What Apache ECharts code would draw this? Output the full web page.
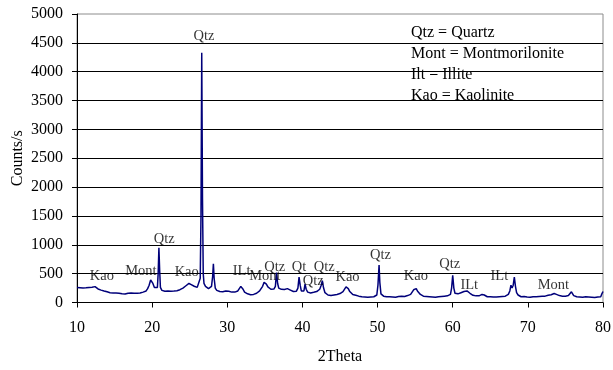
<!DOCTYPE html>
<html><head><meta charset="utf-8">
<script src="https://cdn.jsdelivr.net/npm/echarts@6/dist/echarts.min.js"></script>
<style>html,body{margin:0;padding:0;background:#fff}#c{width:613px;height:370px}</style>
</head><body><div id="c"></div>
<script>
const twoTheta = [
10.0,10.2,10.4,10.6,10.8,11.0,11.2,11.4,11.6,11.8,12.0,12.2,12.4,12.6,12.8,13.0,13.2,13.4,13.6,13.8,
14.0,14.2,14.4,14.6,14.8,15.0,15.2,15.4,15.6,15.8,16.0,16.2,16.4,16.6,16.8,17.0,17.2,17.4,17.6,17.8,
18.0,18.2,18.4,18.6,18.8,19.0,19.2,19.4,19.6,19.8,19.95,20.1,20.3,20.5,20.7,20.8,20.9,21.0,21.1,21.3,
21.5,21.7,21.9,22.1,22.3,22.5,22.7,22.9,23.1,23.3,23.5,23.7,23.9,24.1,24.3,24.5,24.7,24.9,25.05,25.2,
25.4,25.6,25.8,26.0,26.2,26.4,26.5,26.6,26.7,26.8,26.9,27.1,27.3,27.5,27.7,27.9,28.05,28.15,28.25,28.4,
28.6,28.8,29.0,29.2,29.4,29.6,29.8,30.0,30.2,30.4,30.6,30.8,31.0,31.2,31.4,31.6,31.8,31.95,32.1,32.3,
32.5,32.7,32.9,33.1,33.3,33.5,33.7,33.9,34.1,34.3,34.5,34.7,34.9,35.05,35.2,35.4,35.6,35.8,36.0,36.2,
36.4,36.55,36.7,36.85,37.0,37.2,37.4,37.6,37.8,38.0,38.2,38.4,38.6,38.8,39.0,39.2,39.4,39.55,39.7,39.85,
40.0,40.2,40.35,40.5,40.7,40.9,41.1,41.3,41.5,41.7,41.9,42.1,42.3,42.5,42.65,42.8,43.0,43.2,43.4,43.6,
43.8,44.0,44.2,44.4,44.6,44.8,45.0,45.2,45.4,45.6,45.8,45.95,46.1,46.3,46.5,46.7,46.9,47.1,47.3,47.5,
47.7,47.9,48.1,48.3,48.5,48.7,48.9,49.1,49.3,49.5,49.7,49.9,50.05,50.2,50.3,50.45,50.6,50.8,51.0,51.2,
51.4,51.6,51.8,52.0,52.2,52.4,52.6,52.8,53.0,53.2,53.4,53.6,53.8,54.0,54.2,54.4,54.6,54.8,55.0,55.15,
55.3,55.5,55.7,55.9,56.1,56.3,56.5,56.7,56.9,57.1,57.3,57.5,57.7,57.9,58.1,58.3,58.5,58.7,58.9,59.1,
59.3,59.5,59.7,59.85,60.0,60.15,60.3,60.5,60.7,60.9,61.1,61.3,61.5,61.7,61.9,62.1,62.3,62.5,62.7,62.9,
63.1,63.3,63.5,63.7,63.9,64.05,64.2,64.4,64.6,64.8,65.0,65.2,65.4,65.6,65.8,66.0,66.2,66.4,66.6,66.8,
67.0,67.2,67.4,67.6,67.75,67.9,68.05,68.2,68.35,68.5,68.7,68.9,69.1,69.3,69.5,69.7,69.9,70.1,70.3,70.5,
70.7,70.9,71.1,71.3,71.5,71.7,71.9,72.1,72.3,72.5,72.7,72.9,73.1,73.3,73.5,73.65,73.8,74.0,74.2,74.4,
74.6,74.8,75.0,75.2,75.4,75.6,75.8,75.95,76.1,76.3,76.5,76.7,76.9,77.1,77.3,77.5,77.7,77.9,78.1,78.3,
78.5,78.7,78.9,79.1,79.3,79.5,79.7,79.85,80.0
];
const counts = [
260,240,255,245,250,238,255,245,262,250,265,285,275,250,235,220,215,205,198,190,
185,178,170,176,165,160,166,150,160,155,150,160,148,155,160,150,165,155,160,170,
160,175,165,170,180,185,200,240,300,390,410,330,260,232,262,500,950,560,262,210,
205,195,188,200,185,196,190,200,194,205,210,222,230,250,270,290,300,330,340,310,
300,282,270,262,280,420,1500,4330,1800,500,330,280,262,240,252,280,450,670,420,250,
210,200,190,196,185,190,200,215,195,185,180,175,180,186,200,240,280,292,230,180,
160,150,140,135,128,140,145,160,180,200,230,280,350,365,320,270,240,230,225,232,
280,520,330,250,240,228,236,225,232,240,225,215,200,190,185,196,250,440,300,200,
180,200,320,230,180,170,165,172,176,180,190,200,230,300,380,260,170,140,130,125,
120,126,130,135,140,150,155,170,190,220,270,285,240,190,160,140,130,125,115,110,
105,100,106,95,100,90,100,95,105,100,110,130,300,650,350,150,120,110,105,100,
95,100,90,95,100,90,95,105,100,110,100,105,110,120,130,140,170,220,250,240,
200,170,140,120,110,100,105,95,100,90,95,100,90,95,100,95,105,100,110,105,
115,120,140,250,470,250,160,140,150,160,170,180,190,185,200,180,160,140,125,120,
115,110,115,120,140,165,130,110,100,95,100,90,95,100,95,90,100,95,105,100,
110,120,140,200,300,250,300,440,280,170,130,110,100,95,105,100,95,100,90,95,
100,105,100,110,105,100,110,115,110,120,125,130,135,140,155,165,140,130,120,115,
110,115,110,115,120,140,185,160,120,110,100,105,95,100,90,95,100,90,95,85,
90,95,85,90,95,90,100,150,190
];
const annotText = ["Kao","Mont","Qtz","Kao","Qtz","ILt","Mont","Qtz","Qt","Qtz","Qtz","Kao","Qtz","Kao","Qtz","ILt","ILt","Mont"];
const annotX = [13.3,18.5,21.6,24.6,26.9,31.9,35.0,36.3,39.55,41.45,42.9,46.0,50.4,55.1,59.6,62.2,66.2,73.4];
const annotY = [455,547,1095,529,4624,541,455,616,616,368,616,443,818,455,663,299,455,299];
const keyLines = ["Qtz = Quartz","Mont = Montmorilonite","Ilt = Illite","Kao = Kaolinite"];
const xTicks = {min:10,max:80,interval:10};
const yTicks = {min:0,max:5000,interval:500};

const FONT = '"Liberation Serif","Times New Roman",serif';
const chart = echarts.init(document.getElementById('c'), null, {renderer:'canvas'});
chart.setOption({
  animation:false,
  backgroundColor:'#fff',
  grid:{left:77,right:10,top:14,bottom:67.5,show:true,containLabel:false,outerBoundsMode:'none',
    borderColor:'#8c8c8c',borderWidth:1,backgroundColor:'transparent'},
  xAxis:{type:'value',min:xTicks.min,max:xTicks.max,interval:xTicks.interval,
    name:'2Theta',nameLocation:'middle',nameGap:46,nameMoveOverlap:false,
    nameTextStyle:{fontFamily:FONT,fontSize:16,color:'#000'},
    axisLine:{show:true,onZero:false,lineStyle:{color:'#000',width:1}},
    axisTick:{show:true,inside:false,length:5,lineStyle:{color:'#000'}},
    axisLabel:{fontFamily:FONT,fontSize:16,color:'#000',margin:17,formatter:v=>String(v)},
    splitLine:{show:false}},
  yAxis:{type:'value',min:yTicks.min,max:yTicks.max,interval:yTicks.interval,
    name:'Counts/s',nameLocation:'middle',nameGap:51,nameMoveOverlap:false,
    nameTextStyle:{fontFamily:FONT,fontSize:16,color:'#000'},
    axisLine:{show:true,lineStyle:{color:'#000',width:1}},
    axisTick:{show:true,inside:false,length:5,lineStyle:{color:'#000'}},
    axisLabel:{fontFamily:FONT,fontSize:16,color:'#000',margin:14,formatter:v=>String(v)},
    splitLine:{show:true,showMaxLine:false,lineStyle:{color:'#000',width:1}}},
  title:{text:keyLines.join('\n'),left:406,top:17,
    textStyle:{fontFamily:FONT,fontSize:16,fontWeight:'normal',color:'#000',lineHeight:21}},
  series:[
    {type:'line',data:twoTheta.map((t,i)=>[t,counts[i]]),showSymbol:false,symbol:'none',
     lineStyle:{color:'#00007a',width:1.5},z:3},
    {type:'scatter',data:annotX.map((x,i)=>[x,annotY[i],annotText[i]]),symbolSize:0,z:4,
     label:{show:true,position:'inside',formatter:p=>p.data[2],fontFamily:FONT,fontSize:14.5,color:'#000'}}
  ]
});
</script></body></html>
